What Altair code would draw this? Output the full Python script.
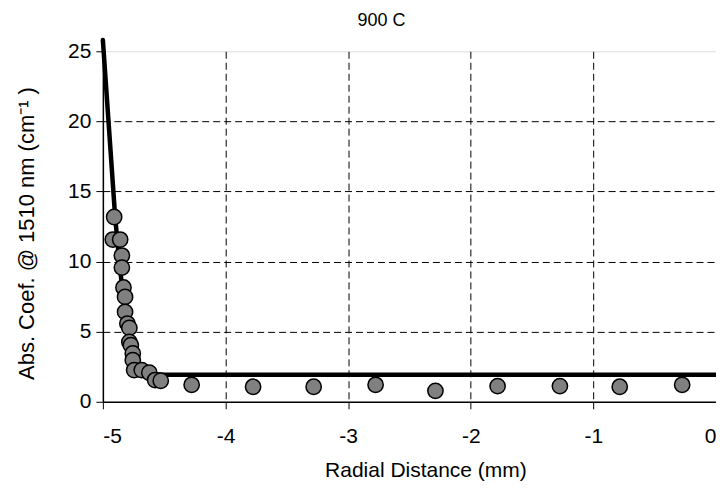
import altair as alt
import pandas as pd

# Measured points
meas_x = [-4.908, -4.919, -4.859, -4.845, -4.845, -4.832, -4.819, -4.819, -4.800,
          -4.784, -4.784, -4.772, -4.756, -4.756, -4.745, -4.683, -4.621, -4.574,
          -4.528, -4.276, -3.775, -3.281, -2.776, -2.288, -1.781, -1.273, -0.785, -0.276]
meas_y = [13.18, 11.57, 11.57, 10.43, 9.57, 8.15, 7.48, 6.41, 5.58,
          5.27, 4.27, 4.04, 3.45, 2.97, 2.26, 2.26, 2.07, 1.55,
          1.50, 1.21, 1.07, 1.07, 1.21, 0.78, 1.12, 1.12, 1.07, 1.21]

# Fitted curve
fit_x = [-5.0, -4.95, -4.90, -4.865, -4.83, -4.80, -4.77, -4.74, -4.70, -4.65, -4.60, -4.52, 0.0]
fit_y = [25.8, 19.5, 13.2, 9.9, 7.2, 5.3, 3.9, 3.0, 2.4, 2.1, 1.98, 1.93, 1.92]

x_ticks = [-5, -4, -3, -2, -1, 0]
y_ticks = [0, 5, 10, 15, 20, 25]

FONT = "Liberation Sans"

pts = pd.DataFrame({"x": meas_x, "y": meas_y})
fit = pd.DataFrame({"x": fit_x, "y": fit_y, "order": list(range(len(fit_x)))})

xscale = alt.Scale(domain=[-5, 0], nice=False, zero=False)
yscale = alt.Scale(domain=[0, 25], nice=False, zero=False)

xaxis = alt.Axis(
    values=x_ticks, title="Radial Distance (mm)", labelExpr="'' + datum.value",
    grid=True, gridDash=[7, 4], gridColor="#000000", gridWidth=1,
    gridOpacity={"condition": {"test": "datum.value == 0 || datum.value == -5", "value": 0}, "value": 1},
    domainColor="#000000", domainWidth=1.5, tickColor="#000000", tickSize=7, tickWidth=1,
    labelFont=FONT, labelFontSize=21, labelColor="#000000", labelPadding=17,
    titleFont=FONT, titleFontSize=21, titleFontWeight="normal", titleColor="#000000",
    titleX=323, titleY=69, titleBaseline="middle", titleAlign="center",
)
yaxis = alt.Axis(
    values=y_ticks, title="Abs. Coef.  @ 1510 nm (cm\u207B\u00B9 )", labelExpr="'' + datum.value",
    grid=True, gridDash=[7, 4], gridColor="#000000", gridWidth=1,
    gridOpacity={"condition": {"test": "datum.value == 0 || datum.value == 25", "value": 0}, "value": 1},
    domainColor="#000000", domainWidth=1.5, tickColor="#000000", tickSize=7, tickWidth=1,
    labelFont=FONT, labelFontSize=21, labelColor="#000000", labelPadding=5,
    titleFont=FONT, titleFontSize=22, titleFontWeight="normal", titleColor="#000000",
    titleX=-76, titleY=182, titleBaseline="middle", titleAlign="center", titleAngle=-90,
)

line = alt.Chart(fit).mark_line(color="#000000", strokeWidth=4.5, strokeCap="round").encode(
    x=alt.X("x:Q", scale=xscale, axis=xaxis),
    y=alt.Y("y:Q", scale=yscale, axis=yaxis),
    order="order:Q",
)

points = alt.Chart(pts).mark_point(
    filled=True, shape="circle", size=235, fill="#808080", stroke="#000000",
    strokeWidth=1.5, opacity=1, fillOpacity=1
).encode(
    x=alt.X("x:Q", scale=xscale),
    y=alt.Y("y:Q", scale=yscale),
)

chart = alt.layer(line, points).properties(
    width=614, height=351,
    title=alt.TitleParams("900 C", anchor="middle", frame="group", dx=-28, offset=1,
                          font=FONT, fontSize=18, fontWeight="normal", color="#000000"),
    autosize=alt.AutoSizeParams(type="none"),
    padding={"left": 95, "top": 43, "right": 0, "bottom": 80},
).configure_view(
    stroke="#808080", strokeWidth=1.5
).configure(background="#ffffff")

chart.save("out.html", embed_options={"renderer": "svg", "actions": False})
